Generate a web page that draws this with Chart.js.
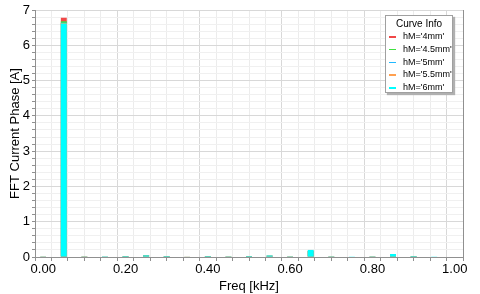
<!DOCTYPE html>
<html>
<head>
<meta charset="utf-8">
<script src="https://cdn.jsdelivr.net/npm/chart.js@4"></script>
<style>
  body { margin: 0; background: #fff; }
  #wrap { position: relative; width: 480px; height: 294px; }
  #legend {
    position: absolute; left: 385px; top: 15px; width: 66px; height: 76px;
    background: #fff; border: 1px solid #a0a0a0;
    box-shadow: 2px 2px 1px #b0b0b0;
    font: 9px "Liberation Sans", Arial, sans-serif; color: #000;
  }
  #legend .title { text-align: center; margin-top: 2px; height: 13px; font-size: 10px; }
  #legend .item { position: relative; height: 12.8px; }
  #legend .item span.sw { position: absolute; left: 3px; top: 5px; width: 7px; height: 1.5px; }
  #legend .item span.tx { position: absolute; left: 17px; top: 0; }
</style>
</head>
<body>
<div id="wrap">
  <canvas id="chart" width="480" height="294"></canvas>
  <div id="legend"><div class="title">Curve Info</div></div>
</div>
<script>
const freqs = [0.00, 0.05, 0.10, 0.15, 0.20, 0.25, 0.30, 0.35, 0.40, 0.45,
               0.50, 0.55, 0.60, 0.65, 0.70, 0.75, 0.80, 0.85, 0.90, 0.95];

const seriesNames = ["hM='4mm'", "hM='4.5mm'", "hM='5mm'", "hM='5.5mm'", "hM='6mm'"];
const seriesColors = ['#f04848', '#40e040', '#20b8ff', '#ffa050', '#00ffff'];

const hM4   = [0.010, 6.78, 0.008, 0.012, 0.002, 0.045, 0.002, 0.012, 0.002, 0.008,
               0.002, 0.035, 0.008, 0.17, 0.008, 0.015, 0.008, 0.075, 0.002, 0.015];
const hM45  = [0.010, 6.68, 0.008, 0.016, 0.002, 0.045, 0.002, 0.012, 0.002, 0.008,
               0.002, 0.035, 0.008, 0.17, 0.008, 0.015, 0.008, 0.075, 0.002, 0.015];
const hM5   = [0.010, 6.64, 0.008, 0.010, 0.002, 0.045, 0.002, 0.012, 0.002, 0.008,
               0.002, 0.035, 0.008, 0.17, 0.008, 0.015, 0.008, 0.075, 0.002, 0.015];
const hM55  = [0.010, 6.63, 0.008, 0.008, 0.002, 0.048, 0.002, 0.012, 0.002, 0.008,
               0.002, 0.035, 0.008, 0.18, 0.008, 0.015, 0.008, 0.078, 0.002, 0.015];
const hM6   = [0.012, 6.62, 0.012, 0.006, 0.002, 0.045, 0.002, 0.015, 0.002, 0.010,
               0.002, 0.040, 0.010, 0.20, 0.010, 0.020, 0.010, 0.085, 0.002, 0.020];

const seriesValues = [hM4, hM45, hM5, hM55, hM6];

const xTicks = [0, 0.2, 0.4, 0.6, 0.8, 1.0];
const yTicks = [0, 1, 2, 3, 4, 5, 6, 7];

const fontFamily = '"Liberation Sans", Arial, sans-serif';

const isMultiple = (v, step) => Math.abs(v / step - Math.round(v / step)) < 1e-6;

const datasets = seriesNames.map((name, i) => ({
    label: name,
    data: freqs.map((f, j) => ({ x: f, y: seriesValues[i][j] })),
    backgroundColor: seriesColors[i],
    borderWidth: 0,
    grouped: false,
    barPercentage: 0.36,
    categoryPercentage: 1,
    order: seriesNames.length - 1 - i
}));

// html legend
const legend = document.getElementById('legend');
seriesNames.forEach((name, i) => {
    const item = document.createElement('div');
    item.className = 'item';
    item.innerHTML = '<span class="sw" style="background:' + seriesColors[i] + '"></span>' +
                     '<span class="tx">' + name + '</span>';
    legend.appendChild(item);
});

const gridColor = (step, major, minor) => (ctx) => {
    if (!ctx.tick) return major;
    return isMultiple(ctx.tick.value, step) ? major : minor;
};

new Chart(document.getElementById('chart'), {
    type: 'bar',
    data: { datasets: datasets },
    options: {
        responsive: false,
        animation: false,
        layout: { padding: { top: 10, right: 17, left: 0, bottom: 0 } },
        plugins: {
            legend: { display: false },
            tooltip: { enabled: false }
        },
        scales: {
            x: {
                type: 'linear',
                min: 0,
                max: 1,
                afterFit: (scale) => { scale.height = 37; },
                ticks: {
                    stepSize: 0.04,
                    autoSkip: false,
                    maxRotation: 0,
                    padding: 1,
                    color: '#000',
                    font: { family: fontFamily, size: 13 },
                    callback: (v) => xTicks.some(t => Math.abs(t - v) < 1e-6) ? v.toFixed(2) : ''
                },
                grid: {
                    color: gridColor(0.2, '#d8d8d8', '#ececec'),
                    tickLength: 4,
                    tickColor: '#909090'
                },
                border: { color: '#909090' },
                title: {
                    display: true,
                    text: 'Freq [kHz]',
                    color: '#000',
                    padding: 0,
                    font: { family: fontFamily, size: 13 }
                }
            },
            y: {
                min: 0,
                max: 7,
                afterFit: (scale) => { scale.width = 35; },
                ticks: {
                    stepSize: 0.2,
                    autoSkip: false,
                    padding: 2,
                    color: '#000',
                    font: { family: fontFamily, size: 13 },
                    callback: (v) => yTicks.some(t => Math.abs(t - v) < 1e-6) ? Math.round(v) : ''
                },
                grid: {
                    color: gridColor(1, '#d8d8d8', '#f0f0f0'),
                    tickLength: 3,
                    tickColor: '#909090'
                },
                border: { color: '#909090' },
                title: {
                    display: true,
                    text: 'FFT Current Phase [A]',
                    color: '#000',
                    padding: { top: 8, bottom: 0 },
                    font: { family: fontFamily, size: 13 }
                }
            }
        }
    },
    plugins: [{
        id: 'frame',
        afterDraw(chart) {
            const a = chart.chartArea, c = chart.ctx;
            c.save();
            c.strokeStyle = '#909090';
            c.lineWidth = 1;
            c.beginPath();
            c.moveTo(a.right + 0.5, a.top);
            c.lineTo(a.right + 0.5, a.bottom);
            c.stroke();
            c.restore();
        }
    }]
});
</script>
</body>
</html>
